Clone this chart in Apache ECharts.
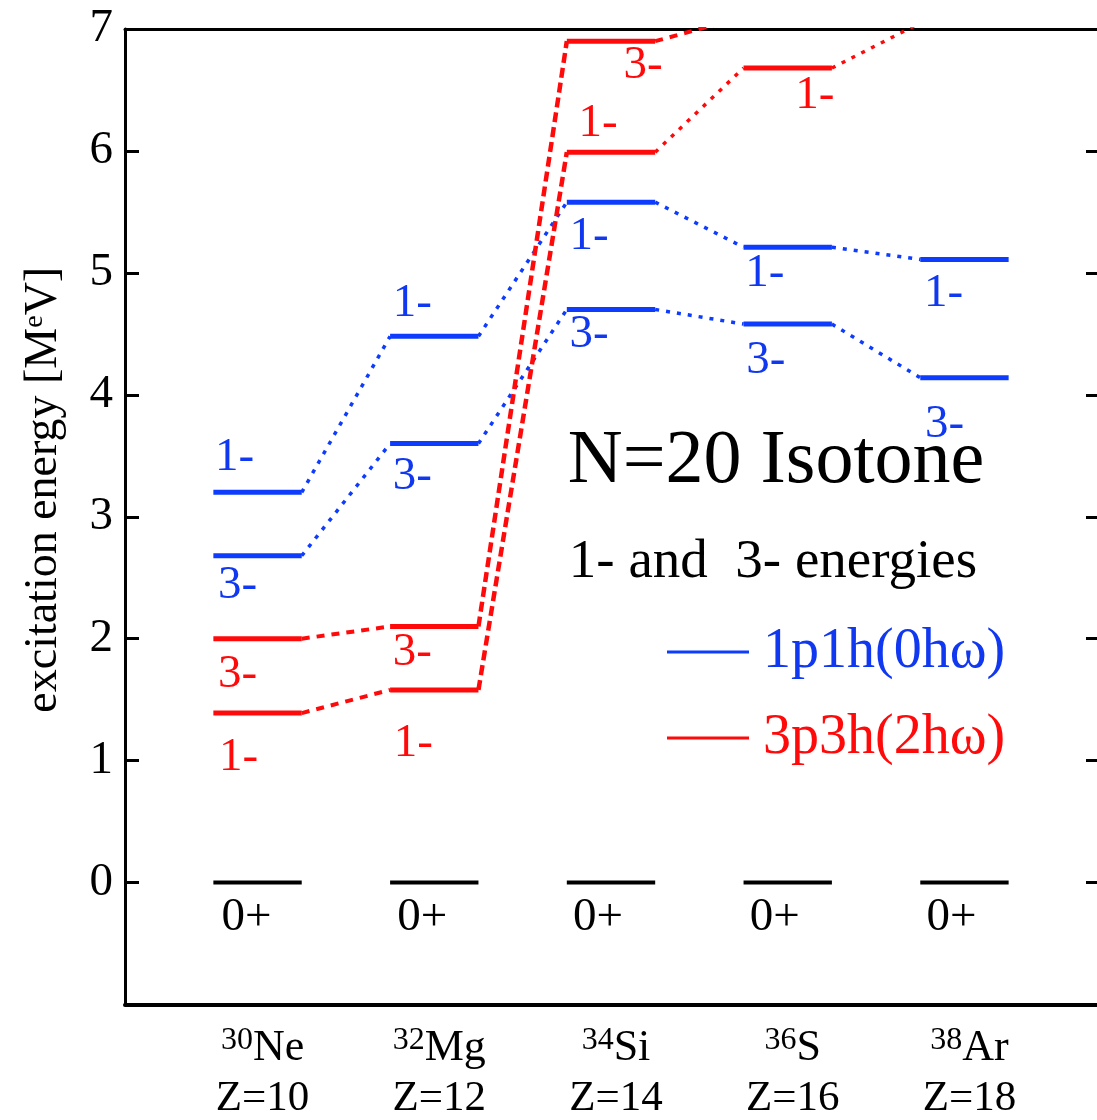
<!DOCTYPE html>
<html>
<head>
<meta charset="utf-8">
<script src="https://cdn.jsdelivr.net/npm/echarts@6/dist/echarts.min.js"></script>
<style>
  html, body { margin: 0; padding: 0; background: #ffffff; }
  #chart { width: 1097px; height: 1120px; }
</style>
</head>
<body>
<div id="chart"></div>
<script>
// ---------------- data ----------------
const massNumbers = [30, 32, 34, 36, 38];
const elements = ['Ne', 'Mg', 'Si', 'S', 'Ar'];
const protonNumbers = [10, 12, 14, 16, 18];
const ground0p = [0, 0, 0, 0, 0];
const blue1m = [3.20, 4.48, 5.58, 5.21, 5.11];
const blue3m = [2.68, 3.60, 4.70, 4.58, 4.14];
const red1m = [1.39, 1.58, 5.99, 6.68, 7.05];
const red3m = [2.00, 2.10, 6.90, 7.10, null];
const yTickValues = [0, 1, 2, 3, 4, 5, 6, 7];

// ---------------- styles / layout ----------------
const FONT = "'Liberation Serif', 'DejaVu Serif', serif";
const BLUE = '#0d3cff';
const BLUE_TXT = '#1038f0';
const RED = '#ff0a0a';
const BLACK = '#000000';
const HALF = 0.5;            // half width of a level bar (in Z units)

const connStyles = {
  dot:       { type: [4, 7], width: 3.5 },
  dash:      { type: [8, 7], width: 4 },
  dashThick: { type: [10, 5], width: 4.5 }
};
const blue1Conn = ['dot', 'dot', 'dot', 'dot'];
const blue3Conn = ['dot', 'dot', 'dot', 'dot'];
const red1Conn  = ['dash', 'dashThick', 'dot', 'dot'];
const red3Conn  = ['dash', 'dashThick', 'dash', null];

const labelOffsets = {
  blue1m: [[-23, -35], [-22, -33], [-22, 35], [-23, 26], [-21, 34]],
  blue3m: [[-20, 30], [-22, 33], [-22, 25], [-22, 37], [-20, 47]],
  red1m:  [[-19, 45], [-21, 54], [-13, -29], [27, 28], null],
  red3m:  [[-20, 36], [-22, 26], [32, 24], null, null],
  ground: [[-11, 35], [-12, 35], [-13, 35], [-13, 35], [-13, 35]]
};

const Y_MIN = -1, Y_MAX = 7;
const X_MIN = 8.5, X_MAX = 19.5;

// ---------------- build series ----------------
const series = [];

function addLevels(values, color, legendName, width) {
  values.forEach((e, i) => {
    if (e === null) return;
    const z = protonNumbers[i];
    series.push({
      type: 'line', name: legendName, silent: true, animation: false,
      symbol: 'none', color: color, clip: true,
      lineStyle: { color: color, width: width, cap: 'butt' },
      data: [[z - HALF, e], [z + HALF, e]]
    });
  });
}

function addConnectors(values, color, styles) {
  for (let i = 0; i < values.length - 1; i++) {
    const a = values[i], b = values[i + 1];
    const st = styles[i];
    if (a === null || b === null || !st) continue;
    series.push({
      type: 'line', name: 'conn', silent: true, animation: false,
      symbol: 'none', clip: true, color: color,
      lineStyle: Object.assign({ color: color, cap: 'butt' }, connStyles[st]),
      data: [[protonNumbers[i] + HALF, a], [protonNumbers[i + 1] - HALF, b]]
    });
  }
}

function addLabels(values, text, color, offsets) {
  const data = [];
  values.forEach((e, i) => {
    if (e === null || e > Y_MAX || !offsets[i]) return;
    data.push({
      value: [protonNumbers[i], e],
      label: { offset: offsets[i] }
    });
  });
  series.push({
    type: 'scatter', name: 'lbl', silent: true, animation: false,
    symbolSize: 0, itemStyle: { color: 'rgba(0,0,0,0)', opacity: 1 },
    label: {
      show: true, position: 'inside', formatter: text,
      color: color, opacity: 1, fontFamily: FONT, fontSize: 47
    },
    data: data
  });
}

addLevels(ground0p, BLACK, 'ground', 4);
addLevels(blue1m, BLUE, '1p1h(0hω)', 5);
addLevels(blue3m, BLUE, '1p1h(0hω)', 5);
addLevels(red1m, RED, '3p3h(2hω)', 5);
addLevels(red3m, RED, '3p3h(2hω)', 5);

addConnectors(blue1m, BLUE, blue1Conn);
addConnectors(blue3m, BLUE, blue3Conn);
addConnectors(red1m, RED, red1Conn);
addConnectors(red3m, RED, red3Conn);

addLabels(blue1m, '1-', BLUE_TXT, labelOffsets.blue1m);
addLabels(blue3m, '3-', BLUE_TXT, labelOffsets.blue3m);
addLabels(red1m, '1-', RED, labelOffsets.red1m);
addLabels(red3m, '3-', RED, labelOffsets.red3m);
addLabels(ground0p, '0+', BLACK, labelOffsets.ground);

// ---------------- chart ----------------
const chart = echarts.init(document.getElementById('chart'), null, { renderer: 'canvas' });

chart.setOption({
  backgroundColor: '#ffffff',
  animation: false,
  textStyle: { fontFamily: FONT },
  title: [
    {
      text: 'N=20 Isotone', left: 771, top: 419, textAlign: 'center',
      textStyle: { fontFamily: FONT, fontSize: 76, fontWeight: 'normal', color: BLACK }
    },
    {
      text: '1- and  3- energies', left: 768, top: 530, textAlign: 'center',
      textStyle: { fontFamily: FONT, fontSize: 55, fontWeight: 'normal', color: BLACK }
    }
  ],
  legend: {
    orient: 'vertical', left: 662, top: 617,
    itemWidth: 82, itemHeight: 3, itemGap: 26, icon: 'rect',
    selectedMode: false,
    textStyle: { fontFamily: FONT, fontSize: 56, lineHeight: 60, padding: [0, 0, 0, 9] },
    data: [
      { name: '1p1h(0hω)', textStyle: { color: BLUE_TXT } },
      { name: '3p3h(2hω)', textStyle: { color: RED } }
    ]
  },
  grid: { left: 125, right: 0, top: 29, bottom: 115, containLabel: false },
  xAxis: [
    {
      type: 'value', position: 'bottom', min: X_MIN, max: X_MAX,
      axisLine: { show: true, onZero: false, lineStyle: { color: BLACK, width: 4 } },
      axisTick: { show: false },
      splitLine: { show: false },
      axisLabel: {
        customValues: protonNumbers,
        margin: 20,
        formatter: function (v) {
          const i = protonNumbers.indexOf(v);
          if (i < 0) return '';
          return '{sup|' + massNumbers[i] + '}{el|' + elements[i] + '}\n{z|Z=' + protonNumbers[i] + '}';
        },
        rich: {
          sup: { fontFamily: FONT, fontSize: 32, color: BLACK, verticalAlign: 'top', lineHeight: 30, padding: [0, 0, 0, 10] },
          el: { fontFamily: FONT, fontSize: 44, color: BLACK, lineHeight: 48 },
          z: { fontFamily: FONT, fontSize: 43, color: BLACK, lineHeight: 52, padding: [0, 0, 0, 10] }
        }
      }
    },
    {
      type: 'value', position: 'top', min: X_MIN, max: X_MAX,
      axisLine: { show: true, onZero: false, lineStyle: { color: BLACK, width: 3 } },
      axisTick: { show: false }, axisLabel: { show: false }, splitLine: { show: false }
    }
  ],
  yAxis: [
    {
      type: 'value', position: 'left', min: Y_MIN, max: Y_MAX, interval: 1,
      name: 'excitation energy [M{e|e}V]',
      nameLocation: 'middle', nameRotate: 90, nameGap: 58,
      nameTextStyle: {
        fontFamily: FONT, fontSize: 46, color: BLACK, padding: [0, 0, 0, 54],
        rich: { e: { fontFamily: FONT, fontSize: 28, color: BLACK, verticalAlign: 'top', lineHeight: 32 } }
      },
      axisLine: { show: true, onZero: false, lineStyle: { color: BLACK, width: 3 } },
      axisTick: { show: true, inside: true, length: 14, lineStyle: { color: BLACK, width: 3 } },
      splitLine: { show: false },
      axisLabel: {
        margin: 12, color: BLACK, fontFamily: FONT, fontSize: 47,
        formatter: function (v) { return yTickValues.indexOf(v) >= 0 ? String(v) : ''; }
      }
    },
    {
      type: 'value', position: 'right', min: Y_MIN, max: Y_MAX, interval: 1,
      axisLine: { show: false },
      axisTick: { show: true, inside: true, length: 11, lineStyle: { color: BLACK, width: 3 } },
      axisLabel: { show: false }, splitLine: { show: false }
    }
  ],
  series: series
});
</script>
</body>
</html>
